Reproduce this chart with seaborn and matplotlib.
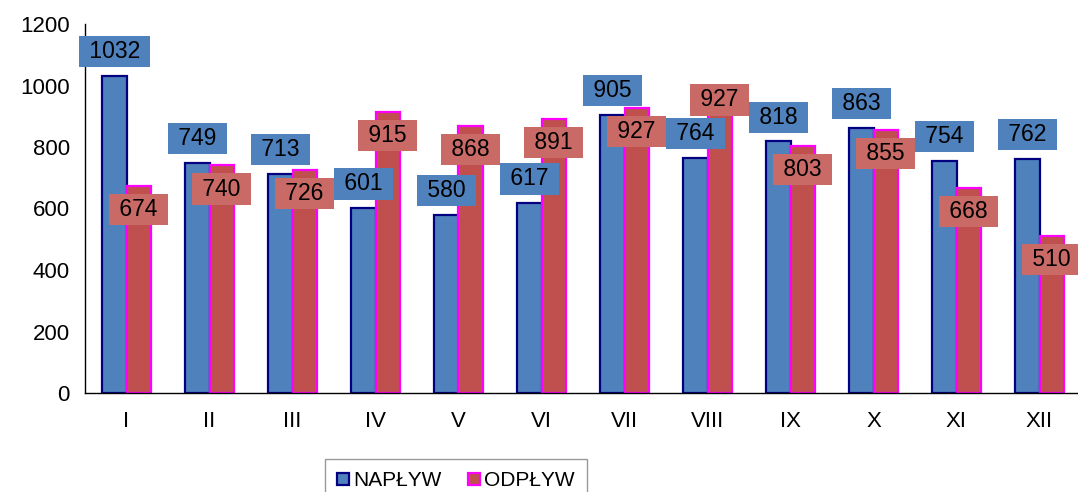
import pandas as pd
import matplotlib
matplotlib.use('Agg')
import matplotlib.pyplot as plt
from matplotlib.patches import Patch
import seaborn as sns

months = ['I', 'II', 'III', 'IV', 'V', 'VI', 'VII', 'VIII', 'IX', 'X', 'XI', 'XII']
naplyw = [1032, 749, 713, 601, 580, 617, 905, 764, 818, 863, 754, 762]
odplyw = [674, 740, 726, 915, 868, 891, 927, 927, 803, 855, 668, 510]
series = ['NAPŁYW', 'ODPŁYW']

# label placement (points, relative to bar top)
dy_in = [17.5] * 12
dy_out = [-17.0] * 12
dy_out[7] = 5.8

blue, red = '#4F81BD', '#C0504D'
blue_lbl, red_lbl = '#4F81BD', '#C96A66'
edges = ['#000080', '#FF00FF']

df = pd.DataFrame({
    'miesiac': months * 2,
    'wartosc': naplyw + odplyw,
    'seria': [series[0]] * 12 + [series[1]] * 12,
})

sns.set_style('white')
plt.rcParams['font.family'] = ['Liberation Sans', 'DejaVu Sans']
plt.rcParams['text.color'] = 'black'

fig = plt.figure(figsize=(10.78, 4.92), dpi=100)
ax = fig.add_axes([85 / 1078, 99 / 492, 996 / 1078, 369 / 492])

sns.barplot(data=df, x='miesiac', y='wartosc', hue='seria', order=months,
            hue_order=series, palette=[blue, red], width=0.58, saturation=1,
            ax=ax, legend=False)

for cont, ec in zip(ax.containers, edges):
    for p in cont:
        p.set_edgecolor(ec)
        p.set_linewidth(1.6)

lbl_colors = [blue_lbl, red_lbl]
offsets = [dy_in, dy_out]
for k, cont in enumerate(ax.containers):
    for i, p in enumerate(cont):
        h = p.get_height()
        xc = p.get_x() + p.get_width() / 2
        ax.annotate(f' {int(round(h))} ', (xc, h), xytext=(0, offsets[k][i]),
                    textcoords='offset points', ha='center', va='center',
                    fontsize=16.5, color='black', zorder=5,
                    bbox=dict(boxstyle='square,pad=0.18', fc=lbl_colors[k], ec='none'),
                    annotation_clip=False)

ax.set_ylim(0, 1200)
ax.set_yticks(range(0, 1201, 200))
ax.set_xlim(-0.5, 11.5)
ax.set_xlabel('')
ax.set_ylabel('')
ax.set_xticks(range(12))
ax.set_xticks([i - 0.5 for i in range(13)], minor=True)
ax.tick_params(axis='x', which='major', length=0, labelsize=16, pad=13, labelcolor='black')
ax.tick_params(axis='x', which='minor', length=6, color='#808080', width=1, direction='out')
ax.tick_params(axis='y', length=6, color='#808080', width=1, direction='out', labelsize=16,
               pad=5, labelcolor='black')
for s in ['top', 'right']:
    ax.spines[s].set_visible(False)
ax.spines['left'].set_color('black')
ax.spines['bottom'].set_color('black')
ax.spines['left'].set_linewidth(1)
ax.spines['bottom'].set_linewidth(1)

handles = [Patch(facecolor=blue, edgecolor=edges[0], linewidth=1.6),
           Patch(facecolor=red, edgecolor=edges[1], linewidth=1.6)]
leg = fig.legend(handles, series, loc='upper center', bbox_to_anchor=(456 / 1078, 1 - 459 / 492),
                 borderaxespad=0, ncol=2, fontsize=15, frameon=True, fancybox=False,
                 handlelength=0.55, handleheight=0.55, handletextpad=0.2, columnspacing=1.3,
                 borderpad=0.6, labelcolor='black')
leg.get_frame().set_edgecolor('#808080')
leg.get_frame().set_linewidth(1)

fig.savefig('out.png', dpi=100)
